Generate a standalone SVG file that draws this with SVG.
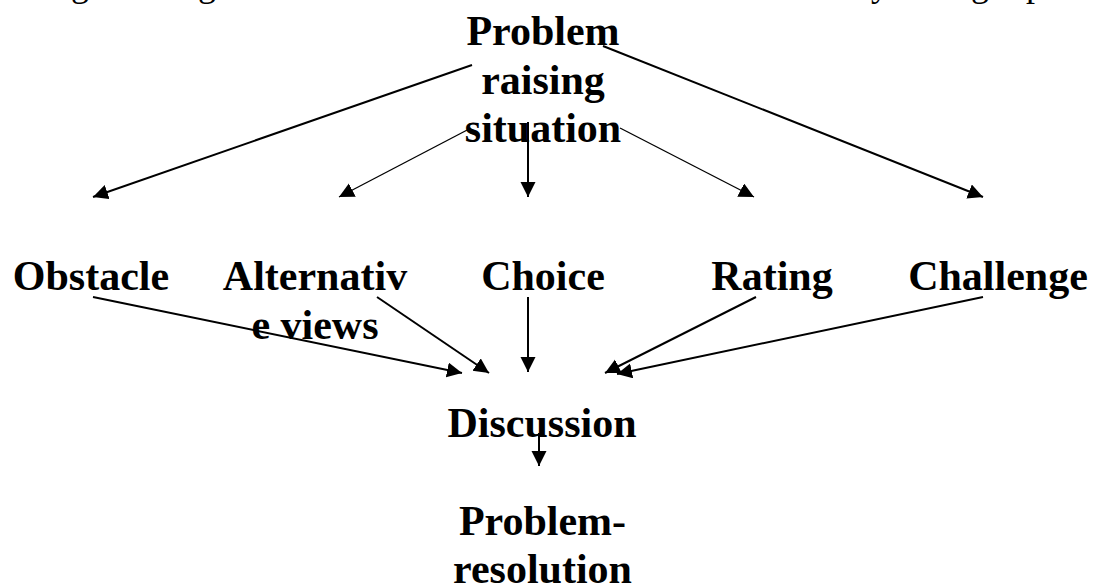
<svg xmlns="http://www.w3.org/2000/svg" width="1097" height="586" viewBox="0 0 1097 586">
<style>
  .lbl { font-family: "Liberation Serif", "Times New Roman", serif; font-weight: bold; font-size: 42px; fill: #000; text-anchor: middle; }
  .frag { font-family: "Liberation Serif", "Times New Roman", serif; font-size: 36px; fill: #000; }
  .c { stroke: #000; stroke-width: 2; fill: none; marker-end: url(#ah); }
  .thin { stroke-width: 1.3; }
</style>
<defs>
  <marker id="ah" markerUnits="userSpaceOnUse" markerWidth="16" markerHeight="16" refX="15" refY="7.5" orient="auto">
    <path d="M0,0 L15,7.5 L0,15 z" fill="#000"/>
  </marker>
</defs>
<rect width="1097" height="586" fill="#fff"/>

<g id="cropped-line">
  <text class="frag" x="71" y="-4">g</text>
  <text class="frag" x="198" y="-4">g</text>
  <text class="frag" x="871" y="-4">y</text>
  <text class="frag" x="971" y="-4">g</text>
  <text class="frag" x="1026" y="-4">p</text>
</g>

<g id="connectors">
  <line class="c" x1="472" y1="65" x2="93" y2="197"/>
  <line class="c" x1="603" y1="46" x2="983" y2="197"/>
  <line class="c thin" x1="471" y1="128" x2="339" y2="197"/>
  <line class="c" x1="528" y1="122" x2="528" y2="197"/>
  <line class="c thin" x1="620" y1="128" x2="754" y2="197"/>
  <line class="c" x1="93" y1="297" x2="462" y2="373"/>
  <line class="c" x1="377" y1="297" x2="489" y2="373"/>
  <line class="c" x1="528" y1="297" x2="528" y2="372"/>
  <line class="c" x1="756" y1="297" x2="605" y2="373"/>
  <line class="c" x1="983" y1="297" x2="617" y2="374"/>
  <line class="c" x1="539" y1="433" x2="539" y2="466"/>
</g>

<g id="problem-raising-situation">
  <text class="lbl" x="543" y="45">Problem</text>
  <text class="lbl" x="543" y="93.5">raising</text>
  <text class="lbl" x="543" y="142">situation</text>
</g>
<g id="obstacle"><text class="lbl" x="91" y="290">Obstacle</text></g>
<g id="alternative-views">
  <text class="lbl" x="315" y="290">Alternativ</text>
  <text class="lbl" x="315" y="338.5">e views</text>
</g>
<g id="choice"><text class="lbl" x="543" y="290">Choice</text></g>
<g id="rating"><text class="lbl" x="772" y="290">Rating</text></g>
<g id="challenge"><text class="lbl" x="998" y="290">Challenge</text></g>
<g id="discussion"><text class="lbl" x="542" y="437">Discussion</text></g>
<g id="problem-resolution">
  <text class="lbl" x="542.5" y="535">Problem-</text>
  <text class="lbl" x="542.5" y="583">resolution</text>
</g>
</svg>
